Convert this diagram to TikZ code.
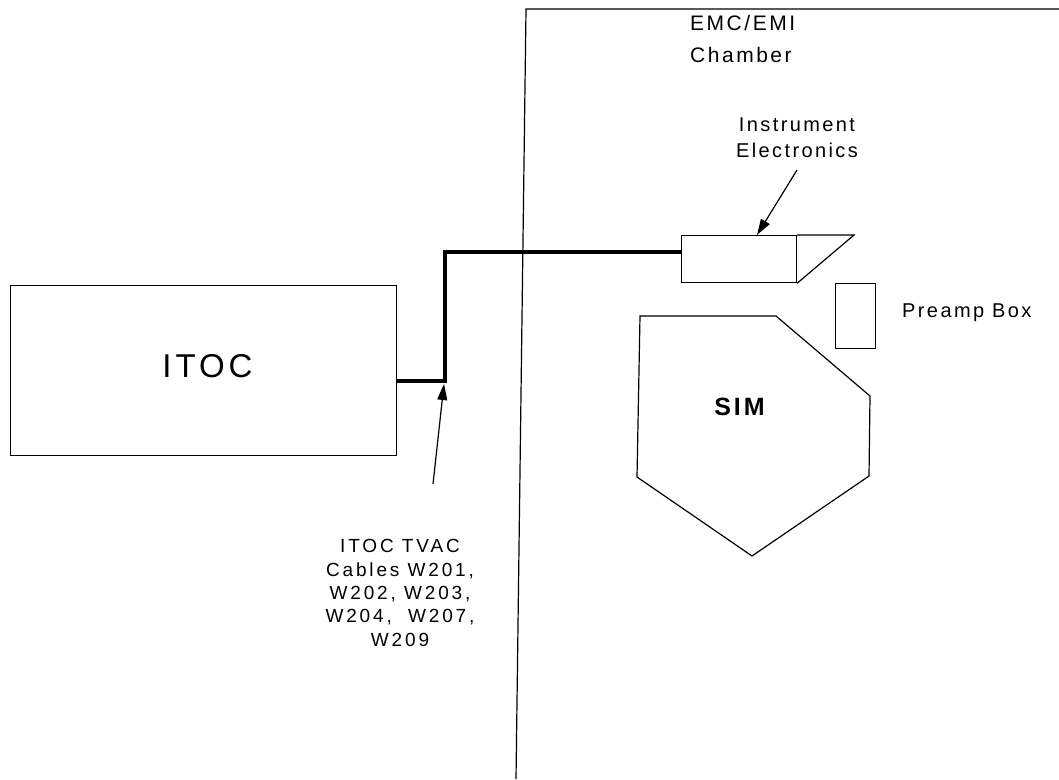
\documentclass[tikz,border=0pt]{standalone}
\usepackage{fontspec}
\setmainfont{Liberation Sans}
\newfontfamily\lblfont[LetterSpace=12]{Liberation Sans}
\newfontfamily\cabfont[LetterSpace=15]{Liberation Sans}
\usetikzlibrary{arrows.meta}
\begin{document}
\begin{tikzpicture}[x=1pt,y=-1pt,line join=miter,
  thinln/.style={line width=1.2pt},
  boxsh/.style={draw,line width=1.2pt,inner sep=0pt,anchor=north west},
  lbl/.style={inner sep=0pt,font=\lblfont\fontsize{20}{26}\selectfont},
  ptr/.style={line width=1.2pt,-{Triangle[length=16pt,width=10pt]}},
  cable/.style={line width=4pt}]
\useasboundingbox (0,0) rectangle (1059,779);
% chamber
\coordinate (chbot) at (516,779);
\coordinate (chcorner) at (526,9);
\coordinate (chright) at (1059,9);
\draw[thinln] (chbot) -- (chcorner) -- (chright);
\node[lbl,anchor=north west,align=left,font=\lblfont\fontsize{21}{32}\selectfont] (emc) at (690,15) {EMC/EMI\\Chamber};
% ITOC
\node[boxsh,minimum width=386pt,minimum height=170pt] (itoc) at (10,285) {};
\node[inner sep=0pt,anchor=base,font=\lblfont\fontsize{33}{33}\selectfont] (itoctext) at (207.5,377) {ITOC};
% Instrument electronics
\node[boxsh,minimum width=115pt,minimum height=47pt] (ie) at (681,235) {};
\coordinate (wedge) at (854,235);
\draw[thinln] (ie.north east) -- (wedge) -- (ie.south east);
\node[lbl,anchor=north,align=center] (ielbl) at (797,118) {Instrument\\Electronics};
\coordinate (ietail) at (797,170);
\coordinate (ietip) at (757,235);
\draw[ptr] (ietail) -- (ietip);
% Preamp
\node[boxsh,minimum width=40pt,minimum height=65pt] (preamp) at (835,283) {};
\node[lbl,anchor=base west] (prelbl) at (902,317) {Preamp Box};
% SIM
\coordinate (s1) at (640,316);
\coordinate (s2) at (776,316);
\coordinate (s3) at (870,396);
\coordinate (s4) at (869,476);
\coordinate (s5) at (752,556);
\coordinate (s6) at (637,477);
\draw[thinln] (s1) -- (s2) -- (s3) -- (s4) -- (s5) -- (s6) -- cycle;
\node[inner sep=0pt,anchor=base,font=\lblfont\bfseries\fontsize{25}{25}\selectfont] (sim) at (739.5,415) {SIM};
% cable
\coordinate (ca) at (itoc.east |- 0,381);
\coordinate (cb) at (445,381);
\coordinate (cc) at (445,252);
\coordinate (cd) at (ie.west |- 0,252);
\draw[cable] (ca) -- (cb) -- (cc) -- (cd);
% cable label
\node[inner sep=0pt,anchor=north,align=center,font=\cabfont\fontsize{19}{23.3}\selectfont] (cablbl) at (400,539.5) {ITOC TVAC\\Cables W201,\\W202, W203,\\W204,\ \ W207,\\W209};
\coordinate (cabtail) at (433,484);
\coordinate (cabtip) at (444,384);
\draw[ptr] (cabtail) -- (cabtip);
\end{tikzpicture}
\end{document}
